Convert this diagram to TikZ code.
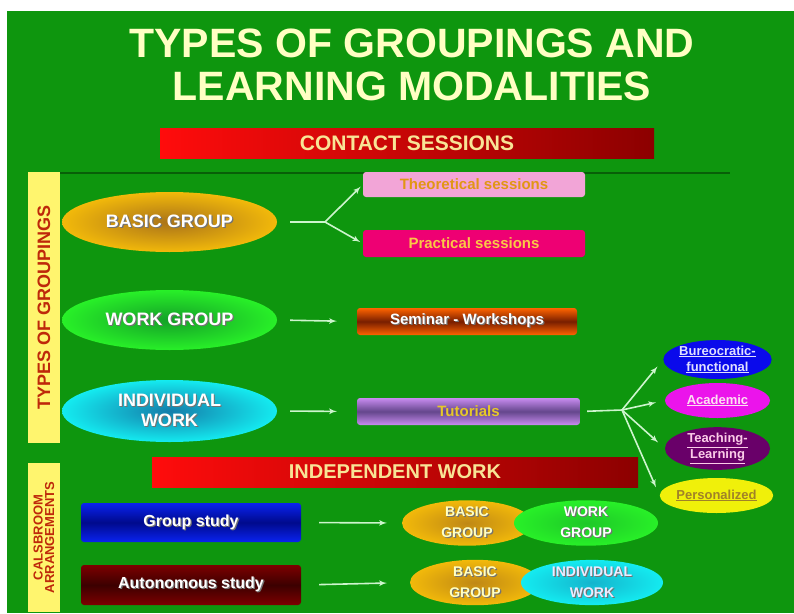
\documentclass[tikz,border=0pt]{standalone}
\usepackage{fontspec}
\setmainfont{Liberation Sans}
\usepackage{tikz}
\usetikzlibrary{arrows,calc,positioning,shapes}
\usetikzlibrary{shapes.geometric}

\definecolor{slidegreen}{RGB}{14,150,14}
\definecolor{shadegreen}{RGB}{8,95,8}
\definecolor{linkgreen}{RGB}{205,245,205}
\definecolor{titlecream}{RGB}{255,255,195}
\definecolor{barcream}{RGB}{248,228,150}
\definecolor{barred}{RGB}{255,12,12}
\definecolor{bardark}{RGB}{140,0,0}
\definecolor{sideyellow}{RGB}{255,245,110}
\definecolor{sidetext}{RGB}{190,40,10}
\definecolor{basicgold}{RGB}{242,185,10}
\definecolor{basicdark}{RGB}{170,115,25}
\definecolor{workgreen}{RGB}{40,240,40}
\definecolor{workdark}{RGB}{20,160,40}
\definecolor{indcyan}{RGB}{20,235,240}
\definecolor{inddark}{RGB}{20,125,170}
\definecolor{theopink}{RGB}{242,165,215}
\definecolor{theotext}{RGB}{225,150,20}
\definecolor{pracpink}{RGB}{238,0,115}
\definecolor{practext}{RGB}{250,200,70}
\definecolor{semorange}{RGB}{255,100,0}
\definecolor{semdark}{RGB}{120,30,0}
\definecolor{tutlav}{RGB}{200,140,240}
\definecolor{tutdark}{RGB}{100,70,140}
\definecolor{tuttext}{RGB}{230,200,40}
\definecolor{burblue}{RGB}{10,10,235}
\definecolor{acamag}{RGB}{235,20,235}
\definecolor{teapur}{RGB}{105,0,105}
\definecolor{peryellow}{RGB}{240,240,10}
\definecolor{pertext}{RGB}{160,130,40}
\definecolor{gsblue}{RGB}{10,35,240}
\definecolor{gsdark}{RGB}{0,10,140}
\definecolor{asred}{RGB}{125,0,0}
\definecolor{asdark}{RGB}{60,0,0}

% text with a dark drop shadow
\newcommand{\shtext}[1]{\makebox[0pt][l]{\kern1.2pt\raisebox{-1.2pt}{\textcolor{black!55}{#1}}}#1}

\tikzset{%
	redbar/.style   = {rectangle, left color=barred, right color=bardark, text=barcream, minimum height=30pt, inner sep=0pt, font=\fontsize{21}{24}\selectfont\bfseries},
	sidebar/.style  = {rectangle, fill=sideyellow, text=sidetext, rotate=90, minimum height=32pt, inner sep=0pt, align=center}, % Side label
	groupell/.style = {ellipse, text=white, minimum width=215pt, minimum height=60pt, inner sep=0pt, align=center, font=\fontsize{18}{20}\selectfont\bfseries},
	sessbox/.style  = {rectangle, rounded corners=3pt, minimum width=222pt, minimum height=26pt, inner sep=0pt, font=\fontsize{15}{17}\selectfont\bfseries},
	modell/.style   = {ellipse, minimum width=105pt, minimum height=35pt, inner sep=0pt, align=center, font=\fontsize{13}{16}\selectfont\bfseries}, % Modality
	studybox/.style = {rectangle, rounded corners=3pt, minimum width=220pt, minimum height=40pt, text=white, font=\fontsize{16}{18}\selectfont\bfseries},
	pairell/.style  = {ellipse, minimum height=40pt, inner sep=0pt, align=center, font=\fontsize{14}{21}\selectfont\bfseries},
	waypoint/.style = {coordinate},
	conn/.style     = {draw=linkgreen, line width=1.6pt},
}

\begin{document}
\begin{tikzpicture}[x=1pt,y=-1pt,node distance=100pt,>=latex']
	\useasboundingbox (0,0) rectangle (794,613);
	\fill [white] (0,0) rectangle (794,613);
	\fill [slidegreen] (7,11) rectangle (794,613);
	\draw [shadegreen, line width=2pt] (60,173) -- (730,173);

	\node [text=titlecream, anchor=base, font=\fontsize{41}{46}\selectfont\bfseries] (title1) at (412,57) {TYPES OF GROUPINGS AND};
	\node [text=titlecream, anchor=base, font=\fontsize{41}{46}\selectfont\bfseries] (title2) at (412,100) {LEARNING MODALITIES};
	\node [redbar, minimum width=494pt] (contact) at (407,143) {CONTACT SESSIONS};

	\node [sidebar, minimum width=271pt, font=\fontsize{18}{20}\selectfont\bfseries] (types) at (44,307.5) {TYPES OF GROUPINGS};
	\node [sidebar, minimum width=149pt, font=\fontsize{13}{11.5}\selectfont\bfseries] (rooms) at (44,537.5) {CALSBROOM\\ARRANGEMENTS};

	\node [groupell, inner color=basicdark, outer color=basicgold] (bg) at (169.5,222) {\shtext{BASIC GROUP}};
	\node [groupell, inner color=workdark, outer color=workgreen] (wg) [below of=bg,node distance=98pt] {\shtext{WORK GROUP}};
	\node [groupell, inner color=inddark, outer color=indcyan, minimum height=62pt] (iw) [below of=wg,node distance=91pt] {\shtext{INDIVIDUAL}\\\shtext{WORK}};

	\node [sessbox, fill=theopink, text=theotext, minimum height=25pt] (theo) at (474,184.5) {Theoretical sessions};
	\node [sessbox, fill=pracpink, text=practext, minimum height=27pt] (prac) [below of=theo,node distance=59pt] {Practical sessions};
	\node [sessbox, top color=semorange, bottom color=semorange, middle color=semdark, text=white, minimum width=220pt, minimum height=27pt] (sem) at (467,321.5) {\shtext{Seminar - Workshops}};
	\node [sessbox, top color=tutlav, bottom color=tutlav, middle color=tutdark, text=tuttext, minimum width=223pt, minimum height=27pt] (tut) at (468.5,411.5) {Tutorials};

	\node [modell, fill=burblue, text=blue!12!white] (bur) at (717.5,359.5) {\underline{Bureocratic-}\\\underline{functional}};
	\node [modell, fill=acamag, text=magenta!12!white] (aca) [below of=bur,node distance=41pt] {\underline{Academic}};
	\node [modell, fill=teapur, text=magenta!20!white, minimum height=37pt] (tea) [below of=aca,node distance=48pt] {\underline{Teaching-}\\\underline{Learning}};
	\node [modell, fill=peryellow, text=pertext, minimum width=101pt] (per) at (716.5,495.5) {\underline{Personalized}};

	\node [redbar, minimum width=486pt, font=\fontsize{20}{23}\selectfont\bfseries] (indep) at (395,472) {INDEPENDENT WORK};

	\node [studybox, top color=gsblue, bottom color=gsblue, middle color=gsdark, minimum height=39pt] (gs) at (191,522.5) {\shtext{Group study}};
	\node [studybox, top color=asred, bottom color=asred, middle color=asdark] (as) at (191,585) {\shtext{Autonomous study}};

	\node [pairell, inner color=basicdark!70!basicgold, outer color=basicgold, text=titlecream, minimum width=130pt] (bga) at (467,523) {\shtext{BASIC}\\\shtext{GROUP}};
	\node [pairell, inner color=workdark!50!workgreen, outer color=workgreen, text=white, minimum width=144pt] (wga) [right of=bga,node distance=119pt] {\shtext{WORK}\\\shtext{GROUP}};
	\node [pairell, inner color=basicdark!70!basicgold, outer color=basicgold, text=titlecream, minimum width=130pt] (bgb) at (475,582.5) {\shtext{BASIC}\\\shtext{GROUP}};
	\node [pairell, inner color=inddark!50!indcyan, outer color=indcyan, text=blue!8!white, minimum width=142pt] (iwb) [right of=bgb,node distance=117pt] {\shtext{INDIVIDUAL}\\\shtext{WORK}};

	\node [waypoint] (split) at (325,222) {};
	\node [waypoint] (fan) at (622,410) {};

	\draw [conn, shorten <=13pt] (bg.east) -- (split);
	\draw [conn, ->, shorten >=3pt] (split) -- (theo.west);
	\draw [conn, ->, shorten >=3pt] (split) -- (prac.west);
	\draw [conn, ->, shorten <=13pt, shorten >=20pt] (wg.east) -- (sem.west);
	\draw [conn, ->, shorten <=13pt, shorten >=20pt] (iw.east) -- (tut.west);
	\draw [conn, shorten <=7pt] (tut.east) -- (fan);
	\draw [conn, ->, shorten >=9pt] (fan) -- (bur.west);
	\draw [conn, ->, shorten >=9pt] (fan) -- (aca.west);
	\draw [conn, ->, shorten >=9pt] (fan) -- (tea.west);
	\draw [conn, ->, shorten >=9pt] (fan) -- (per.west);
	\draw [conn, ->, shorten <=18pt, shorten >=15pt] (gs.east) -- (bga.west);
	\draw [conn, ->, shorten <=18pt, shorten >=23pt] (as.east) -- (bgb.west);
\end{tikzpicture}
\end{document}
